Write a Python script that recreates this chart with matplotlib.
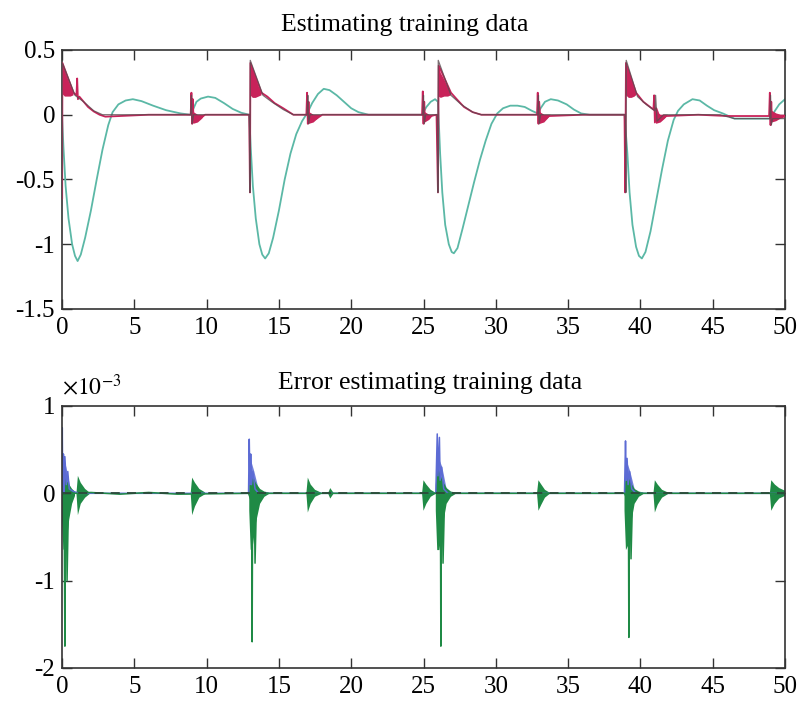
import numpy as np
import matplotlib
matplotlib.use("Agg")
import matplotlib.pyplot as plt
from matplotlib.ticker import FuncFormatter

nan = np.nan

# ---- top panel: estimated signals ----
teal_t = [0.0, 0.1, 0.25, 0.45, 0.7, 0.9, 1.08, 1.3, 1.6, 2.0, 2.4, 2.8, 3.2, 3.5, 3.9, 4.4,
          4.9, 5.5, 6.3, 7.2, 8.2, 8.9, 9.1, 9.3, 9.6, 10.1, 10.6, 11.2, 11.8, 12.4, 12.95,
          13.05, 13.2, 13.4, 13.65, 13.85, 14.05, 14.3, 14.6, 15.0, 15.4, 15.8, 16.2, 16.6,
          17.0, 17.3, 17.7, 18.1, 18.5, 19.0, 19.5, 20.0, 20.5, 21.2, 22.5, 24.9, 25.2, 25.5,
          25.8, 26.0, 26.15, 26.3, 26.5, 26.75, 26.95, 27.1, 27.35, 27.7, 28.1, 28.5, 28.9,
          29.3, 29.7, 30.1, 30.5, 31.0, 31.5, 32.0, 32.5, 32.9, 33.1, 33.4, 33.8, 34.3, 34.9,
          35.4, 35.9, 36.5, 38.9, 39.1, 39.25, 39.45, 39.7, 39.9, 40.1, 40.35, 40.7, 41.1,
          41.5, 41.9, 42.3, 42.6, 43.0, 43.6, 44.1, 44.6, 45.1, 45.7, 46.5, 49.0, 49.3, 49.6,
          50.0]
teal_v = [0.0, -0.25, -0.55, -0.8, -1.0, -1.09, -1.13, -1.08, -0.95, -0.74, -0.5, -0.27, -0.08,
          0.02, 0.08, 0.11, 0.12, 0.105, 0.07, 0.035, 0.01, 0.0, 0.05, 0.1, 0.125, 0.14, 0.13,
          0.09, 0.045, 0.015, 0.0,
          -0.25, -0.55, -0.8, -1.0, -1.08, -1.11, -1.07, -0.95, -0.74, -0.5, -0.3, -0.15,
          -0.05, 0.02, 0.09, 0.16, 0.2, 0.19, 0.15, 0.1, 0.05, 0.02, 0.0, 0.0, 0.0, 0.06,
          0.1, 0.12, 0.1,
          -0.3, -0.6, -0.85, -1.0, -1.06, -1.07, -1.03, -0.88, -0.7, -0.52, -0.35, -0.2,
          -0.07, 0.01, 0.05, 0.07, 0.07, 0.06, 0.03, 0.01, 0.05, 0.1, 0.12, 0.11, 0.08, 0.04,
          0.01, 0.0, 0.0,
          -0.3, -0.6, -0.85, -1.02, -1.09, -1.11, -1.06, -0.9, -0.66, -0.42, -0.2, -0.04,
          0.03, 0.08, 0.12, 0.11, 0.07, 0.035, 0.01, -0.03, -0.03, 0.03, 0.08, 0.12]

red_t = [0.0, 0.01, 0.03, 0.8, 1.0, 1.05, 1.1, 1.2, 1.5, 1.8, 2.2, 2.6, 3.0, 4.0, 6.0, 8.9,
         8.95, 9.0, 9.05, 9.1, 9.2, 9.5, 9.9, 11.0, 12.95,
         13.0, 13.03, 13.8, 14.2, 14.7, 15.3, 16.0, 16.9, 16.95, 17.0, 17.05, 17.1, 17.2,
         17.6, 18.0, 20.0, 24.9, 24.95, 25.0, 25.05, 25.1, 25.2, 25.5, 25.9,
         26.0, 26.05, 26.9, 27.3, 27.8, 28.4, 29.0, 31.0, 32.85, 32.9, 32.95, 33.0, 33.1,
         33.3, 33.7, 36.0, 38.9,
         38.95, 39.0, 39.7, 40.2, 40.9, 40.95, 41.0, 41.1, 41.4, 41.8, 44.0, 46.0, 48.9,
         48.95, 49.0, 49.05, 49.1, 49.3, 50.0]
red_v = [0.0, -0.65, 0.4, 0.17, 0.15, 0.28, 0.12, 0.14, 0.1, 0.06, 0.025, 0.0, -0.015, -0.01,
         0.0, 0.0, 0.17, -0.07, 0.12, -0.05, -0.04, -0.03, 0.0, 0.0, 0.0,
         -0.6, 0.4, 0.17, 0.14, 0.09, 0.05, 0.0, 0.0, 0.17, -0.07, 0.1, -0.06, -0.05,
         -0.03, 0.0, 0.0, 0.0, 0.18, -0.07, 0.1, -0.05, -0.03, -0.01, 0.0,
         -0.6, 0.38, 0.17, 0.12, 0.06, 0.02, 0.0, 0.0, 0.0, 0.17, -0.07, 0.1, -0.06,
         -0.04, -0.01, 0.0, 0.0,
         -0.6, 0.4, 0.17, 0.1, 0.04, 0.15, -0.06, 0.05, -0.04, -0.01, 0.0, -0.01, -0.01,
         0.17, -0.08, 0.1, -0.05, -0.02, -0.01]

# dense oscillation envelopes right after each switching instant
red_band_t = [0.03, 0.2, 0.4, 0.6, 0.8, nan, 8.95, 9.1, 9.4, 9.7, 9.9, nan,
              13.03, 13.2, 13.4, 13.6, 13.8, nan, 16.95, 17.1, 17.4, 17.7, 17.9, nan,
              24.95, 25.1, 25.4, 25.7, nan, 26.05, 26.2, 26.45, 26.7, 26.9, nan,
              32.9, 33.05, 33.35, 33.6, 33.8, nan, 39.0, 39.2, 39.4, 39.6, 39.7, nan,
              40.95, 41.1, 41.4, 41.7, 41.9, nan, 48.95, 49.1, 49.4, 49.7, 50.0]
red_band_hi = [0.4, 0.34, 0.28, 0.22, 0.17, nan, 0.05, 0.02, 0.0, 0.0, 0.0, nan,
               0.4, 0.35, 0.29, 0.22, 0.17, nan, 0.05, 0.02, 0.0, 0.0, 0.0, nan,
               0.05, 0.02, 0.0, 0.0, nan, 0.38, 0.32, 0.27, 0.21, 0.17, nan,
               0.05, 0.02, 0.0, 0.0, 0.0, nan, 0.4, 0.33, 0.27, 0.21, 0.17, nan,
               0.05, 0.02, 0.0, 0.0, 0.0, nan, 0.05, 0.03, 0.01, 0.0, 0.0]
red_band_lo = [0.16, 0.14, 0.14, 0.14, 0.15, nan, -0.05, -0.07, -0.06, -0.03, 0.0, nan,
               0.15, 0.13, 0.13, 0.14, 0.15, nan, -0.05, -0.07, -0.06, -0.03, 0.0, nan,
               -0.05, -0.06, -0.04, 0.0, nan, 0.14, 0.13, 0.14, 0.14, 0.15, nan,
               -0.05, -0.07, -0.06, -0.03, 0.0, nan, 0.15, 0.13, 0.13, 0.14, 0.15, nan,
               -0.04, -0.07, -0.06, -0.03, 0.0, nan, -0.05, -0.06, -0.05, -0.03, -0.02]

grey_t = [0.0, 0.02, 0.9, 1.5, 2.2, 2.8, 4.0, 8.9, 8.95, 9.0, 9.1, 10.0,
          12.95, 13.0, 13.02, 13.9, 14.5, 15.3, 16.0, 16.95, 17.0, 17.05, 17.15, 19.0,
          24.95, 25.0, 25.05, 25.15, 25.95, 26.0, 26.02, 26.9, 27.6, 28.4, 29.0,
          32.9, 32.95, 33.0, 33.1, 38.95, 39.0, 39.02, 39.8, 40.4, 41.0, 41.05, 41.15,
          41.6, 42.0, 45.5, 46.5, 48.95, 49.0, 49.05, 49.15, 50.0]
grey_v = [-0.7, 0.4, 0.15, 0.1, 0.03, 0.0, 0.0, 0.0, 0.15, -0.07, 0.0, 0.0,
          0.0, -0.6, 0.42, 0.15, 0.1, 0.04, 0.0, 0.0, 0.15, -0.07, 0.0, 0.0,
          0.0, 0.15, -0.07, 0.0, 0.0, -0.6, 0.42, 0.15, 0.08, 0.02, 0.0,
          0.0, 0.15, -0.07, 0.0, 0.0, -0.6, 0.42, 0.14, 0.08, 0.03, 0.15, -0.05,
          0.0, 0.0, 0.0, -0.03, -0.03, 0.15, -0.08, -0.03, -0.03]

# ---- bottom panel: estimation error (x1e-3) ----
blue_t = [0.0, 0.02, 0.05, 0.1, 0.15, 0.2, 0.3, 0.4, 0.5, 0.8, 1.2, 12.9, 12.95, 13.0, 13.05,
          13.1, 13.2, 13.35, 13.6, 25.85, 25.95, 26.0, 26.1, 26.15, 26.25, 26.4, 26.7, 38.9,
          38.97, 39.02, 39.08, 39.15, 39.25, 39.4, 39.7, 50.0]
blue_v = [0.0, 0.75, 0.1, 0.45, 0.0, 0.42, 0.1, 0.25, 0.05, 0.02, 0.0, 0.0, 0.62, 0.1, 0.45,
          0.1, 0.25, 0.05, 0.0, 0.0, 0.68, 0.2, 0.64, 0.15, 0.3, 0.05, 0.0, 0.0, 0.6, 0.15,
          0.4, 0.1, 0.25, 0.05, 0.0, 0.0]

blue_band_t = [0.0, 0.05, 0.3, 0.6, nan, 12.95, 13.0, 13.3, 13.6, nan,
               25.9, 25.95, 26.3, 26.6, nan, 38.95, 39.0, 39.3, 39.6]
blue_band_hi = [0.0, 0.45, 0.3, 0.05, nan, 0.0, 0.42, 0.25, 0.05, nan,
                0.0, 0.45, 0.3, 0.05, nan, 0.0, 0.4, 0.25, 0.05]

green_t = [0.0, 0.15, 0.2, 0.23, 0.3, 0.35, 0.45, 0.7, 1.0, 2.0, 4.0, 6.0, 8.0,
           12.9, 13.12, 13.15, 13.18, 13.3, 13.35, 13.45, 13.7, 15.0, 20.0,
           25.9, 26.17, 26.2, 26.23, 26.3, 26.35, 26.45, 26.7, 30.0, 35.0,
           38.9, 39.17, 39.2, 39.23, 39.3, 39.35, 39.45, 39.7, 45.0, 50.0]
green_v = [0.0, -0.2, -1.75, -0.3, -0.1, -1.0, -0.1, 0.0, 0.0, 0.01, -0.01, 0.01, -0.01,
           0.0, -0.1, -1.7, -0.2, -0.1, -0.8, -0.1, 0.0, 0.0, 0.0,
           0.0, -0.1, -1.75, -0.2, -0.1, -0.8, -0.1, 0.0, 0.0, 0.0,
           0.0, -0.1, -1.65, -0.2, -0.1, -0.75, -0.1, 0.0, 0.0, 0.0]

green_band_t = [0.0, 0.1, 0.3, 0.5, 0.7, 0.9, nan, 1.0, 1.1, 1.3, 1.6, 1.9, nan,
                8.9, 9.0, 9.2, 9.5, 9.9, nan, 12.95, 13.05, 13.2, 13.4, 13.7, 14.0, 14.3, nan,
                16.9, 17.0, 17.2, 17.5, 17.9, nan, 18.4, 18.55, 18.8, nan,
                24.9, 25.0, 25.2, 25.5, 25.8, nan, 25.85, 25.95, 26.1, 26.3, 26.6, 26.9, 27.2, nan,
                32.85, 32.95, 33.15, 33.4, 33.7, nan, 38.9, 39.0, 39.15, 39.35, 39.6, 39.9, 40.2, nan,
                40.9, 41.0, 41.2, 41.5, 41.9, nan, 48.95, 49.05, 49.3, 49.6, 50.0]
green_band_hi = [0.2, 0.25, 0.15, 0.1, 0.05, 0.02, nan, 0.0, 0.2, 0.12, 0.05, 0.01, nan,
                 0.0, 0.18, 0.12, 0.05, 0.01, nan, 0.1, 0.25, 0.2, 0.12, 0.05, 0.02, 0.01, nan,
                 0.0, 0.18, 0.1, 0.04, 0.01, nan, 0.0, 0.06, 0.0, nan,
                 0.0, 0.15, 0.1, 0.04, 0.01, nan, 0.1, 0.3, 0.25, 0.15, 0.06, 0.02, 0.01, nan,
                 0.0, 0.15, 0.1, 0.04, 0.01, nan, 0.05, 0.25, 0.2, 0.12, 0.05, 0.02, 0.01, nan,
                 0.0, 0.15, 0.1, 0.04, 0.01, nan, 0.0, 0.15, 0.1, 0.06, 0.03]
green_band_lo = [-0.3, -0.65, -0.6, -0.3, -0.12, -0.03, nan, 0.0, -0.25, -0.12, -0.05, -0.01, nan,
                 0.0, -0.25, -0.15, -0.05, -0.01, nan, -0.2, -0.65, -0.6, -0.35, -0.12, -0.04, -0.01, nan,
                 0.0, -0.22, -0.12, -0.04, -0.01, nan, 0.0, -0.06, 0.0, nan,
                 0.0, -0.2, -0.12, -0.04, -0.01, nan, -0.2, -0.65, -0.65, -0.4, -0.12, -0.04, -0.01, nan,
                 0.0, -0.2, -0.13, -0.05, -0.01, nan, -0.2, -0.65, -0.6, -0.35, -0.12, -0.04, -0.01, nan,
                 0.0, -0.22, -0.13, -0.05, -0.01, nan, 0.0, -0.2, -0.12, -0.06, -0.03]

x_ticks = [0, 5, 10, 15, 20, 25, 30, 35, 40, 45, 50]

plt.rcParams['font.family'] = ['Liberation Serif', 'DejaVu Serif']
plt.rcParams['font.size'] = 18
plt.rcParams['axes.unicode_minus'] = False
plt.rcParams['mathtext.fontset'] = 'stix'

TEAL = '#5bb8a6'
RED = '#c8235a'
GREY = '#5a4b50'
BLUE = '#5c6bd4'
GREEN = '#1f8a45'


def style_axes(ax):
    for s in ax.spines.values():
        s.set_linewidth(1.2)
        s.set_color('#333333')
    ax.tick_params(direction='in', top=True, right=True, length=7, width=1.0,
                   labelsize=18, color='#333333')
    ax.tick_params(axis='x', pad=6)
    ax.tick_params(axis='y', pad=5)
    ax.set_xlim(0, 50)
    ax.set_xticks(x_ticks)


fig = plt.figure(figsize=(8.03, 7.03), dpi=100)
ax1 = fig.add_axes([0.0772, 0.5605, 0.9004, 0.3684])
ax2 = fig.add_axes([0.0772, 0.0498, 0.9004, 0.3727])

# top panel
ax1.plot(teal_t, teal_v, color=TEAL, lw=1.3, zorder=2)
ax1.fill_between(red_band_t, red_band_lo, red_band_hi, color=RED, lw=0, zorder=3)
ax1.plot(red_t, red_v, color=RED, lw=1.3, zorder=3)
ax1.plot(grey_t, grey_v, color=GREY, lw=0.9, alpha=0.8, zorder=4)
style_axes(ax1)
ax1.set_ylim(-1.5, 0.5)
ax1.set_yticks([-1.5, -1, -0.5, 0, 0.5])
ax1.yaxis.set_major_formatter(FuncFormatter(lambda v, p: '%g' % v))
ax1.set_title('Estimating training data', fontsize=18.5, pad=14, x=0.474)

# bottom panel
sc = 1e-3
ax2.fill_between(blue_band_t, 0, np.array(blue_band_hi) * sc, color=BLUE, lw=0, alpha=0.85)
ax2.plot(blue_t, np.array(blue_v) * sc, color=BLUE, lw=1.1)
ax2.fill_between(green_band_t, np.array(green_band_lo) * sc, np.array(green_band_hi) * sc,
                 color=GREEN, lw=0)
ax2.plot(green_t, np.array(green_v) * sc, color=GREEN, lw=1.1)
# dark dashed trace along zero between bursts
ax2.plot([0, 50], [0, 0], color='#2b4a38', lw=1.3, ls=(0, (5, 4)), zorder=3)
style_axes(ax2)
ax2.set_ylim(-2e-3, 1e-3)
ax2.set_yticks([-2e-3, -1e-3, 0, 1e-3])
ax2.yaxis.set_major_formatter(FuncFormatter(lambda v, p: '%g' % round(v / sc, 6)))
ax2.text(0.0, 1.025, r'$\times10^{-3}$', transform=ax2.transAxes, ha='left', va='bottom',
         fontsize=17)
ax2.set_title('Error estimating training data', fontsize=18.5, pad=12, x=0.509)

fig.savefig('out.png', dpi=100)
